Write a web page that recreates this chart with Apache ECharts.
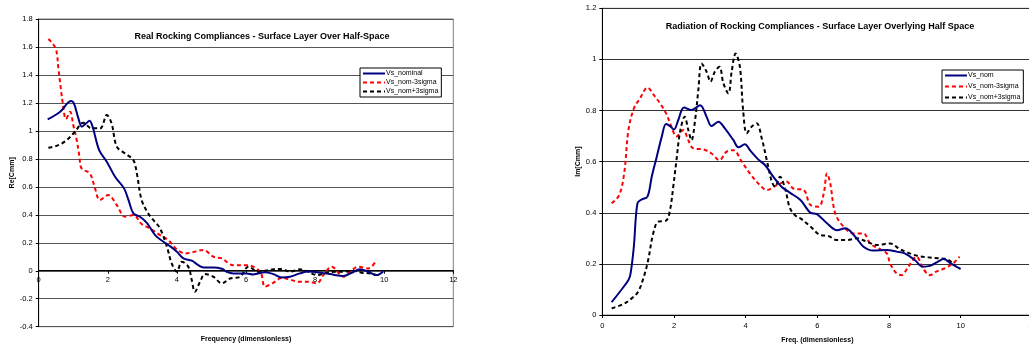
<!DOCTYPE html>
<html>
<head>
<meta charset="utf-8">
<script src="https://cdn.jsdelivr.net/npm/echarts@6/dist/echarts.min.js"></script>
<style>
html,body{margin:0;padding:0;background:#fff;}
#c{width:1029px;height:345px;}
</style>
</head>
<body>
<div id="c"></div>
<script>
// ---- Left chart: Real Rocking Compliances ----
const reNomX = [0.26,0.62,0.94,1.02,1.15,1.25,1.37,1.47,1.56,1.75,1.97,2.21,2.47,2.60,2.74,2.93,3.13,3.37,3.61,3.80,4.00,4.19,4.43,4.62,4.77,5.06,5.30,5.44,5.63,6.02,6.21,6.55,6.79,7.03,7.27,7.56,7.80,8.05,8.43,8.82,9.06,9.30,9.54,9.78,9.97];
const reNomY = [1.082,1.137,1.213,1.196,1.089,1.03,1.053,1.072,1.03,0.863,0.78,0.672,0.589,0.505,0.41,0.386,0.343,0.255,0.207,0.176,0.136,0.088,0.072,0.04,0.024,0.024,0.014,-0.007,-0.019,-0.019,-0.026,-0.01,-0.024,-0.048,-0.043,-0.019,-0.005,-0.01,-0.024,-0.038,-0.014,0.01,-0.007,-0.031,-0.005];

const reLowX = [0.28,0.49,0.57,0.64,0.69,0.79,0.91,1.0,1.1,1.18,1.24,1.48,1.63,1.77,2.01,2.26,2.5,2.74,2.98,3.22,3.51,3.75,4.0,4.24,4.43,4.77,5.06,5.30,5.63,6.02,6.41,6.55,6.79,7.05,7.32,7.56,7.80,8.05,8.24,8.48,8.82,9.01,9.25,9.54,9.78];
const reLowY = [1.657,1.59,1.447,1.304,1.21,1.085,1.137,1.042,0.935,0.815,0.732,0.696,0.589,0.506,0.541,0.47,0.386,0.398,0.334,0.303,0.255,0.219,0.153,0.124,0.131,0.148,0.1,0.088,0.04,0.04,-0.007,-0.114,-0.086,-0.05,-0.067,-0.079,-0.079,-0.09,-0.031,0.029,-0.043,-0.007,0.029,0.017,0.076];

const reHighX = [0.28,0.57,0.81,1.05,1.29,1.53,1.78,1.97,2.11,2.26,2.50,2.74,2.84,2.98,3.17,3.32,3.51,3.71,3.85,4.0,4.14,4.33,4.43,4.52,4.67,4.81,5.06,5.30,5.54,5.83,6.07,6.36,6.79,7.03,7.27,7.56,7.80,8.05,8.33,8.58,8.82,9.11,9.35,9.59,9.78];
const reHighY = [0.879,0.898,0.934,0.994,1.058,1.018,1.018,1.113,1.053,0.887,0.839,0.791,0.696,0.505,0.41,0.362,0.303,0.172,0.052,-0.007,0.064,0.029,-0.067,-0.15,-0.079,-0.024,-0.043,-0.09,-0.055,-0.043,0.029,-0.007,0.01,0.012,-0.007,0.01,-0.007,-0.031,-0.014,-0.007,-0.007,0,-0.014,-0.019,-0.031];

// ---- Right chart: Radiation of Rocking Compliances ----
const imNomX = [0.26,0.49,0.73,0.79,0.88,0.98,1.10,1.26,1.38,1.52,1.66,1.78,1.89,2.0,2.12,2.28,2.49,2.73,2.91,3.05,3.24,3.42,3.66,3.80,3.98,4.12,4.35,4.54,4.77,5.0,5.24,5.53,5.81,5.99,6.27,6.55,6.78,7.06,7.29,7.56,7.94,8.21,8.44,8.72,8.95,9.14,9.37,9.53,9.69,9.88,10.0];
const imNomY = [0.05,0.091,0.137,0.163,0.267,0.437,0.452,0.463,0.541,0.619,0.698,0.747,0.739,0.726,0.763,0.812,0.802,0.821,0.776,0.739,0.756,0.73,0.684,0.656,0.668,0.645,0.609,0.587,0.541,0.502,0.478,0.45,0.4,0.395,0.359,0.332,0.339,0.306,0.267,0.252,0.254,0.248,0.241,0.215,0.189,0.192,0.209,0.219,0.205,0.189,0.18];

const imLowX = [0.26,0.47,0.61,0.73,0.88,1.05,1.26,1.44,1.61,1.78,1.93,2.07,2.26,2.4,2.54,2.82,3.05,3.27,3.47,3.66,3.89,4.12,4.4,4.59,4.87,5.14,5.33,5.62,5.81,6.04,6.18,6.27,6.36,6.5,6.73,7.01,7.29,7.47,7.70,7.94,8.03,8.21,8.35,8.54,8.77,8.95,9.14,9.32,9.56,9.79,9.97];
const imLowY = [0.437,0.469,0.554,0.724,0.808,0.847,0.89,0.86,0.828,0.789,0.737,0.698,0.724,0.684,0.652,0.648,0.632,0.606,0.639,0.645,0.6,0.554,0.508,0.489,0.508,0.522,0.495,0.489,0.43,0.424,0.476,0.554,0.515,0.398,0.346,0.319,0.319,0.28,0.261,0.241,0.202,0.163,0.156,0.189,0.228,0.183,0.156,0.17,0.183,0.202,0.228];

const imHighX = [0.26,0.59,0.82,1.0,1.16,1.28,1.42,1.56,1.78,1.89,1.98,2.07,2.17,2.3,2.4,2.49,2.59,2.68,2.77,2.91,3.02,3.14,3.27,3.38,3.52,3.61,3.72,3.84,3.93,4.03,4.17,4.31,4.45,4.59,4.73,4.82,4.96,5.1,5.24,5.42,5.53,5.81,6.08,6.31,6.55,6.82,7.1,7.38,7.66,8.03,8.31,8.58,8.81,9.09,9.37,9.6,9.83];
const imHighY = [0.026,0.043,0.065,0.091,0.15,0.215,0.319,0.365,0.369,0.411,0.502,0.606,0.717,0.776,0.724,0.684,0.763,0.88,0.984,0.952,0.913,0.952,0.971,0.906,0.867,0.952,1.023,0.971,0.802,0.711,0.737,0.75,0.691,0.606,0.522,0.502,0.541,0.495,0.417,0.385,0.378,0.346,0.313,0.309,0.293,0.293,0.3,0.287,0.274,0.28,0.257,0.241,0.231,0.226,0.222,0.219,0.196];

const zip = (xs, ys) => xs.map((x, i) => [x, ys[i]]);

const FONT = 'Liberation Sans, Arial, sans-serif';
const navy = '#000080';
const red = '#ff0000';
const black = '#000000';

function lineSeries(name, xi, yi, data, color, dashed) {
  return {
    name: name, type: 'line', xAxisIndex: xi, yAxisIndex: yi,
    data: data, symbol: 'none', smooth: 0.35, animation: false,
    lineStyle: { color: color, width: 2, type: dashed ? [4, 3] : 'solid' },
    itemStyle: { color: color }
  };
}

const axisLabelStyle = { fontSize: 7.5, color: '#000', fontFamily: FONT };
const nameStyle = { fontSize: 7, fontWeight: 'bold', color: '#000', fontFamily: FONT };
const legendCommon = {
  orient: 'vertical', backgroundColor: '#fff', borderColor: '#000', borderWidth: 1,
  padding: [2, 3, 2, 2], itemWidth: 22, itemHeight: 6,
  itemStyle: { opacity: 0 },
  textStyle: { fontSize: 7, color: '#000', fontFamily: FONT, padding: [0, 0, 0, -4] }
};

const chart = echarts.init(document.getElementById('c'), null, { renderer: 'canvas' });
chart.setOption({
  animation: false,
  backgroundColor: '#fff',
  title: [
    { text: 'Real Rocking Compliances - Surface Layer Over Half-Space', left: 257, top: 27, textAlign: 'center',
      textStyle: { fontSize: 9, fontWeight: 'bold', color: '#000', fontFamily: FONT } },
    { text: 'Radiation of Rocking Compliances - Surface Layer Overlying Half Space', left: 815, top: 17, textAlign: 'center',
      textStyle: { fontSize: 9, fontWeight: 'bold', color: '#000', fontFamily: FONT } }
  ],
  legend: [
    Object.assign({ data: ['Vs_nominal', 'Vs_nom-3sigma', 'Vs_nom+3sigma'], left: 360, top: 68, itemGap: 2 }, legendCommon),
    Object.assign({ data: ['Vs_nom', 'Vs_nom-3sigma', 'Vs_nom+3sigma'], left: 942, top: 70, itemGap: 4 }, legendCommon)
  ],
  grid: [
    { left: 38.7, top: 19, width: 414.6, height: 307.7, show: true, borderColor: '#808080', borderWidth: 1,
      backgroundColor: 'transparent', outerBoundsMode: 'none', containLabel: false },
    { left: 602.3, top: 8.3, width: 430, height: 306.7, show: true, borderColor: '#808080', borderWidth: 1,
      backgroundColor: 'transparent', outerBoundsMode: 'none', containLabel: false }
  ],
  xAxis: [
    { type: 'value', gridIndex: 0, min: 0, max: 12, interval: 2, position: 'bottom', offset: -56,
      name: 'Frequency (dimensionless)', nameLocation: 'middle', nameGap: 65, nameTextStyle: nameStyle,
      axisLine: { onZero: false, lineStyle: { color: '#000', width: 1 } },
      axisTick: { show: true, length: 3, lineStyle: { color: '#000' } },
      axisLabel: Object.assign({ margin: 5 }, axisLabelStyle),
      splitLine: { show: false } },
    { type: 'value', gridIndex: 1, min: 0, max: 12, interval: 2,
      name: 'Freq. (dimensionless)', nameLocation: 'middle', nameGap: 22, nameTextStyle: nameStyle,
      axisLine: { onZero: false, lineStyle: { color: '#000', width: 1 } },
      axisTick: { show: true, length: 3, lineStyle: { color: '#000' } },
      axisLabel: Object.assign({ margin: 7 }, axisLabelStyle),
      splitLine: { show: false } }
  ],
  yAxis: [
    { type: 'value', gridIndex: 0, min: -0.4, max: 1.8, interval: 0.2,
      name: 'Re[Cmm]', nameLocation: 'middle', nameGap: 18, nameTextStyle: nameStyle,
      axisLine: { show: true, onZero: false, lineStyle: { color: '#000', width: 1 } },
      axisTick: { show: true, length: 3, lineStyle: { color: '#000' } },
      axisLabel: Object.assign({ margin: 6, formatter: v => String(Math.round(v * 10) / 10) }, axisLabelStyle),
      splitLine: { show: true, lineStyle: { color: '#555', width: 1 } } },
    { type: 'value', gridIndex: 1, min: 0, max: 1.2, interval: 0.2,
      name: 'Im[Cmm]', nameLocation: 'middle', nameGap: 16, nameTextStyle: nameStyle,
      axisLine: { show: true, onZero: false, lineStyle: { color: '#000', width: 1 } },
      axisTick: { show: true, length: 3, lineStyle: { color: '#000' } },
      axisLabel: Object.assign({ margin: 6, formatter: v => String(Math.round(v * 10) / 10) }, axisLabelStyle),
      splitLine: { show: true, lineStyle: { color: '#333', width: 1 } } }
  ],
  series: [
    lineSeries('Vs_nom-3sigma', 0, 0, zip(reLowX, reLowY), red, true),
    lineSeries('Vs_nom+3sigma', 0, 0, zip(reHighX, reHighY), black, true),
    lineSeries('Vs_nominal', 0, 0, zip(reNomX, reNomY), navy, false),
    lineSeries('Vs_nom-3sigma', 1, 1, zip(imLowX, imLowY), red, true),
    lineSeries('Vs_nom+3sigma', 1, 1, zip(imHighX, imHighY), black, true),
    lineSeries('Vs_nom', 1, 1, zip(imNomX, imNomY), navy, false)
  ]
});
</script>
</body>
</html>
